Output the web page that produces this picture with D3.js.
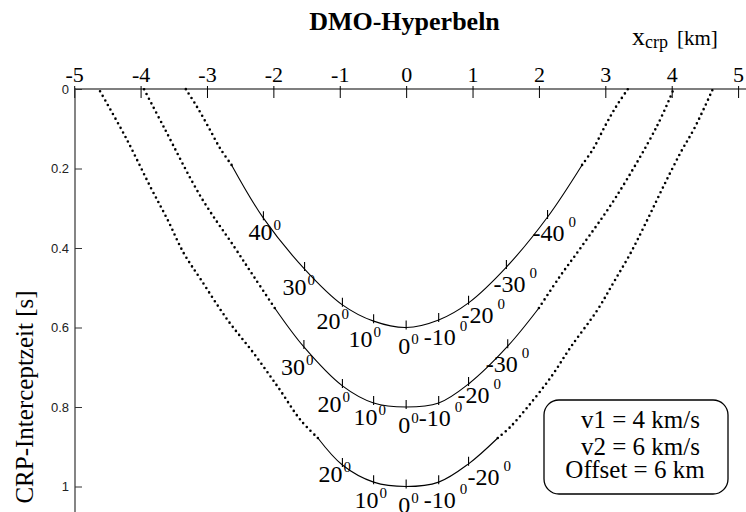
<!DOCTYPE html>
<html>
<head>
<meta charset="utf-8">
<script src="https://cdn.jsdelivr.net/npm/d3@7"></script>
<style>
  body { margin: 0; background: #fff; }
  svg { display: block; }
</style>
</head>
<body>
<svg id="chart" width="746" height="512"></svg>
<script>
// Axis ticks
const xTicks = [-5, -4, -3, -2, -1, 0, 1, 2, 3, 4, 5];
const yTicks = [0, 0.2, 0.4, 0.6, 0.8, 1];

// Angle ticks on each DMO curve: [dip angle in degrees, x_crp km, time s]
const angleTicks06 = [[40, -2.15, 0.325], [30, -1.53, 0.453], [20, -0.96, 0.543], [10, -0.49, 0.584], [0, 0, 0.6],
                      [-10, 0.49, 0.581], [-20, 0.94, 0.538], [-30, 1.51, 0.448], [-40, 2.13, 0.322]];
const angleTicks08 = [[30, -1.54, 0.649], [20, -0.96, 0.747], [10, -0.49, 0.790], [0, 0, 0.8],
                      [-10, 0.49, 0.790], [-20, 0.94, 0.742], [-30, 1.53, 0.647]];
const angleTicks10 = [[20, -0.96, 0.946], [10, -0.49, 0.989], [0, 0, 1.0],
                      [-10, 0.49, 0.989], [-20, 0.94, 0.943]];

// Where the solid (valid) part of each curve ends on the left and right
const branchEnds06 = [[-2.63, 0.191], [2.65, 0.191]];
const branchEnds08 = [[-1.98, 0.551], [2.0, 0.551]];
const branchEnds10 = [[-1.33, 0.878], [1.38, 0.878]];

// Dotted continuations up to t = 0
const dotted06Left  = [[-2.63, 0.191], [-2.80, 0.150], [-2.98, 0.095], [-3.15, 0.045], [-3.32, 0]];
const dotted06Right = [[2.65, 0.191], [2.82, 0.150], [2.99, 0.095], [3.16, 0.045], [3.34, 0]];
const dotted08Left  = [[-1.98, 0.551], [-2.29, 0.473], [-2.59, 0.397], [-3.09, 0.272], [-3.65, 0.096], [-3.95, 0]];
const dotted08Right = [[2.0, 0.551], [2.31, 0.473], [2.64, 0.397], [3.16, 0.272], [3.77, 0.096], [4.03, 0]];
const dotted10Left  = [[-1.33, 0.878], [-1.59, 0.833], [-1.93, 0.75], [-2.30, 0.664], [-2.69, 0.581], [-3.09, 0.48],
                       [-3.35, 0.413], [-3.59, 0.33], [-3.85, 0.247], [-4.22, 0.123], [-4.63, 0]];
const dotted10Right = [[1.38, 0.878], [1.57, 0.85], [1.83, 0.8], [2.18, 0.725], [2.48, 0.649], [2.88, 0.556],
                       [3.12, 0.488], [3.38, 0.413], [3.63, 0.33], [3.87, 0.247], [4.13, 0.161], [4.35, 0.096], [4.62, 0]];

// Model parameters shown in the box
const params = ["v1 = 4 km/s", "v2 = 6 km/s", "Offset = 6 km"];

// Label placement relative to each angle tick (pixels: left edge, baseline)
const labelShift06 = [[-15, 22], [-22, 26], [-26, 24], [-25, 26], [-8, 26], [-15, 25], [-7, 20], [-13, 25], [-15, 24]];
const labelShift08 = [[-23, 28], [-25, 26], [-20, 22], [-8, 26], [-20, 23], [-11, 19], [-22, 26]];
const labelShift10 = [[-24, 17], [-19, 26], [-8, 26], [-15, 26], [-1, 21]];

const curves = [
  { ticks: angleTicks06, ends: branchEnds06, left: dotted06Left, right: dotted06Right, shift: labelShift06 },
  { ticks: angleTicks08, ends: branchEnds08, left: dotted08Left, right: dotted08Right, shift: labelShift08 },
  { ticks: angleTicks10, ends: branchEnds10, left: dotted10Left, right: dotted10Right, shift: labelShift10 }
];

const serif = "'Liberation Serif', 'Times New Roman', serif";
const sans = "'Liberation Sans', Arial, sans-serif";

const svg = d3.select("#chart");
const x = d3.scaleLinear().domain([-5, 5]).range([74.2, 738.1]);
const y = d3.scaleLinear().domain([0, 1]).range([89, 486.5]);

const line = d3.line()
  .x(d => x(d[0]))
  .y(d => y(d[1]))
  .curve(d3.curveCatmullRom.alpha(0.5));

// Title
svg.append("text")
  .attr("x", 404.5).attr("y", 30)
  .attr("text-anchor", "middle")
  .attr("font-family", serif).attr("font-weight", "bold").attr("font-size", 26)
  .text("DMO-Hyperbeln");

// Top x axis
const gx = svg.append("g")
  .attr("transform", `translate(0,${y(0)})`)
  .call(d3.axisTop(x).tickValues(xTicks).tickSize(0).tickPadding(0).tickFormat(d => String(d)));
gx.select(".domain").remove();
gx.selectAll(".tick line").attr("y1", -3).attr("y2", 9).attr("stroke", "#000");
gx.selectAll(".tick text")
  .attr("y", -7).attr("dy", 0)
  .attr("font-family", serif).attr("font-size", 22).attr("fill", "#000");
svg.append("line")
  .attr("x1", 75).attr("x2", 746).attr("y1", y(0)).attr("y2", y(0))
  .attr("stroke", "#000").attr("stroke-width", 1.2);

// x-axis title
const xt = svg.append("text").attr("x", 632).attr("y", 45).attr("font-family", serif).attr("fill", "#000");
xt.append("tspan").attr("font-size", 26).text("x");
xt.append("tspan").attr("font-size", 18).attr("dy", 3).text("crp");
xt.append("tspan").attr("font-size", 21).attr("x", 677).attr("dy", -3).text("[km]");

// Left y axis
const gy = svg.append("g")
  .attr("transform", "translate(75,0)")
  .call(d3.axisLeft(y).tickValues(yTicks).tickSizeInner(-7).tickSizeOuter(0).tickPadding(6).tickFormat(d => String(d)));
gy.select(".domain").remove();
gy.selectAll(".tick line").attr("stroke", "#333");
gy.selectAll(".tick text").attr("font-family", sans).attr("font-size", 13).attr("fill", "#222");
svg.append("line")
  .attr("x1", 75).attr("x2", 75).attr("y1", y(0) - 1).attr("y2", 512)
  .attr("stroke", "#333").attr("stroke-width", 1.2);

// y-axis title
svg.append("text")
  .attr("transform", "translate(33,397) rotate(-90)")
  .attr("text-anchor", "middle")
  .attr("font-family", serif).attr("font-size", 25)
  .text("CRP-Interceptzeit [s]");

// Curves
const plot = svg.append("g");
curves.forEach(c => {
  const solid = [c.ends[0], ...c.ticks.map(d => [d[1], d[2]]), c.ends[1]];
  plot.append("path")
    .attr("d", line(solid))
    .attr("fill", "none").attr("stroke", "#000").attr("stroke-width", 1.1);

  [c.left, c.right].forEach(branch => {
    plot.append("path")
      .attr("d", line(branch))
      .attr("fill", "none").attr("stroke", "#000")
      .attr("stroke-width", 2.6).attr("stroke-linecap", "round")
      .attr("stroke-dasharray", "0 5.2");
  });

  plot.selectAll(null).data(c.ticks).join("line")
    .attr("x1", d => x(d[1])).attr("x2", d => x(d[1]))
    .attr("y1", d => y(d[2]) - 7).attr("y2", d => y(d[2]) + 2)
    .attr("stroke", "#000").attr("stroke-width", 1.1);

  c.ticks.forEach((d, i) => {
    const [dx, dy] = c.shift[i];
    const t = plot.append("text")
      .attr("x", x(d[1]) + dx).attr("y", y(d[2]) + dy)
      .attr("font-family", serif).attr("fill", "#000");
    t.append("tspan").attr("font-size", 24).text(String(d[0]));
    t.append("tspan").attr("font-size", 15)
      .attr("dx", d[0] < 0 ? 4 : 1)
      .attr("dy", d[0] < 0 ? -14 : -10)
      .text("0");
  });
});

// Parameter box
svg.append("rect")
  .attr("x", 544).attr("y", 400).attr("width", 184).attr("height", 94)
  .attr("rx", 15).attr("ry", 15)
  .attr("fill", "#fff").attr("stroke", "#000").attr("stroke-width", 1.3);
const paramX = [640.5, 640.5, 635];
const paramY = [428, 455, 478];
svg.selectAll(null).data(params).join("text")
  .attr("x", (d, i) => paramX[i]).attr("y", (d, i) => paramY[i])
  .attr("text-anchor", "middle")
  .attr("font-family", serif).attr("font-size", 25)
  .text(d => d);
</script>
</body>
</html>
